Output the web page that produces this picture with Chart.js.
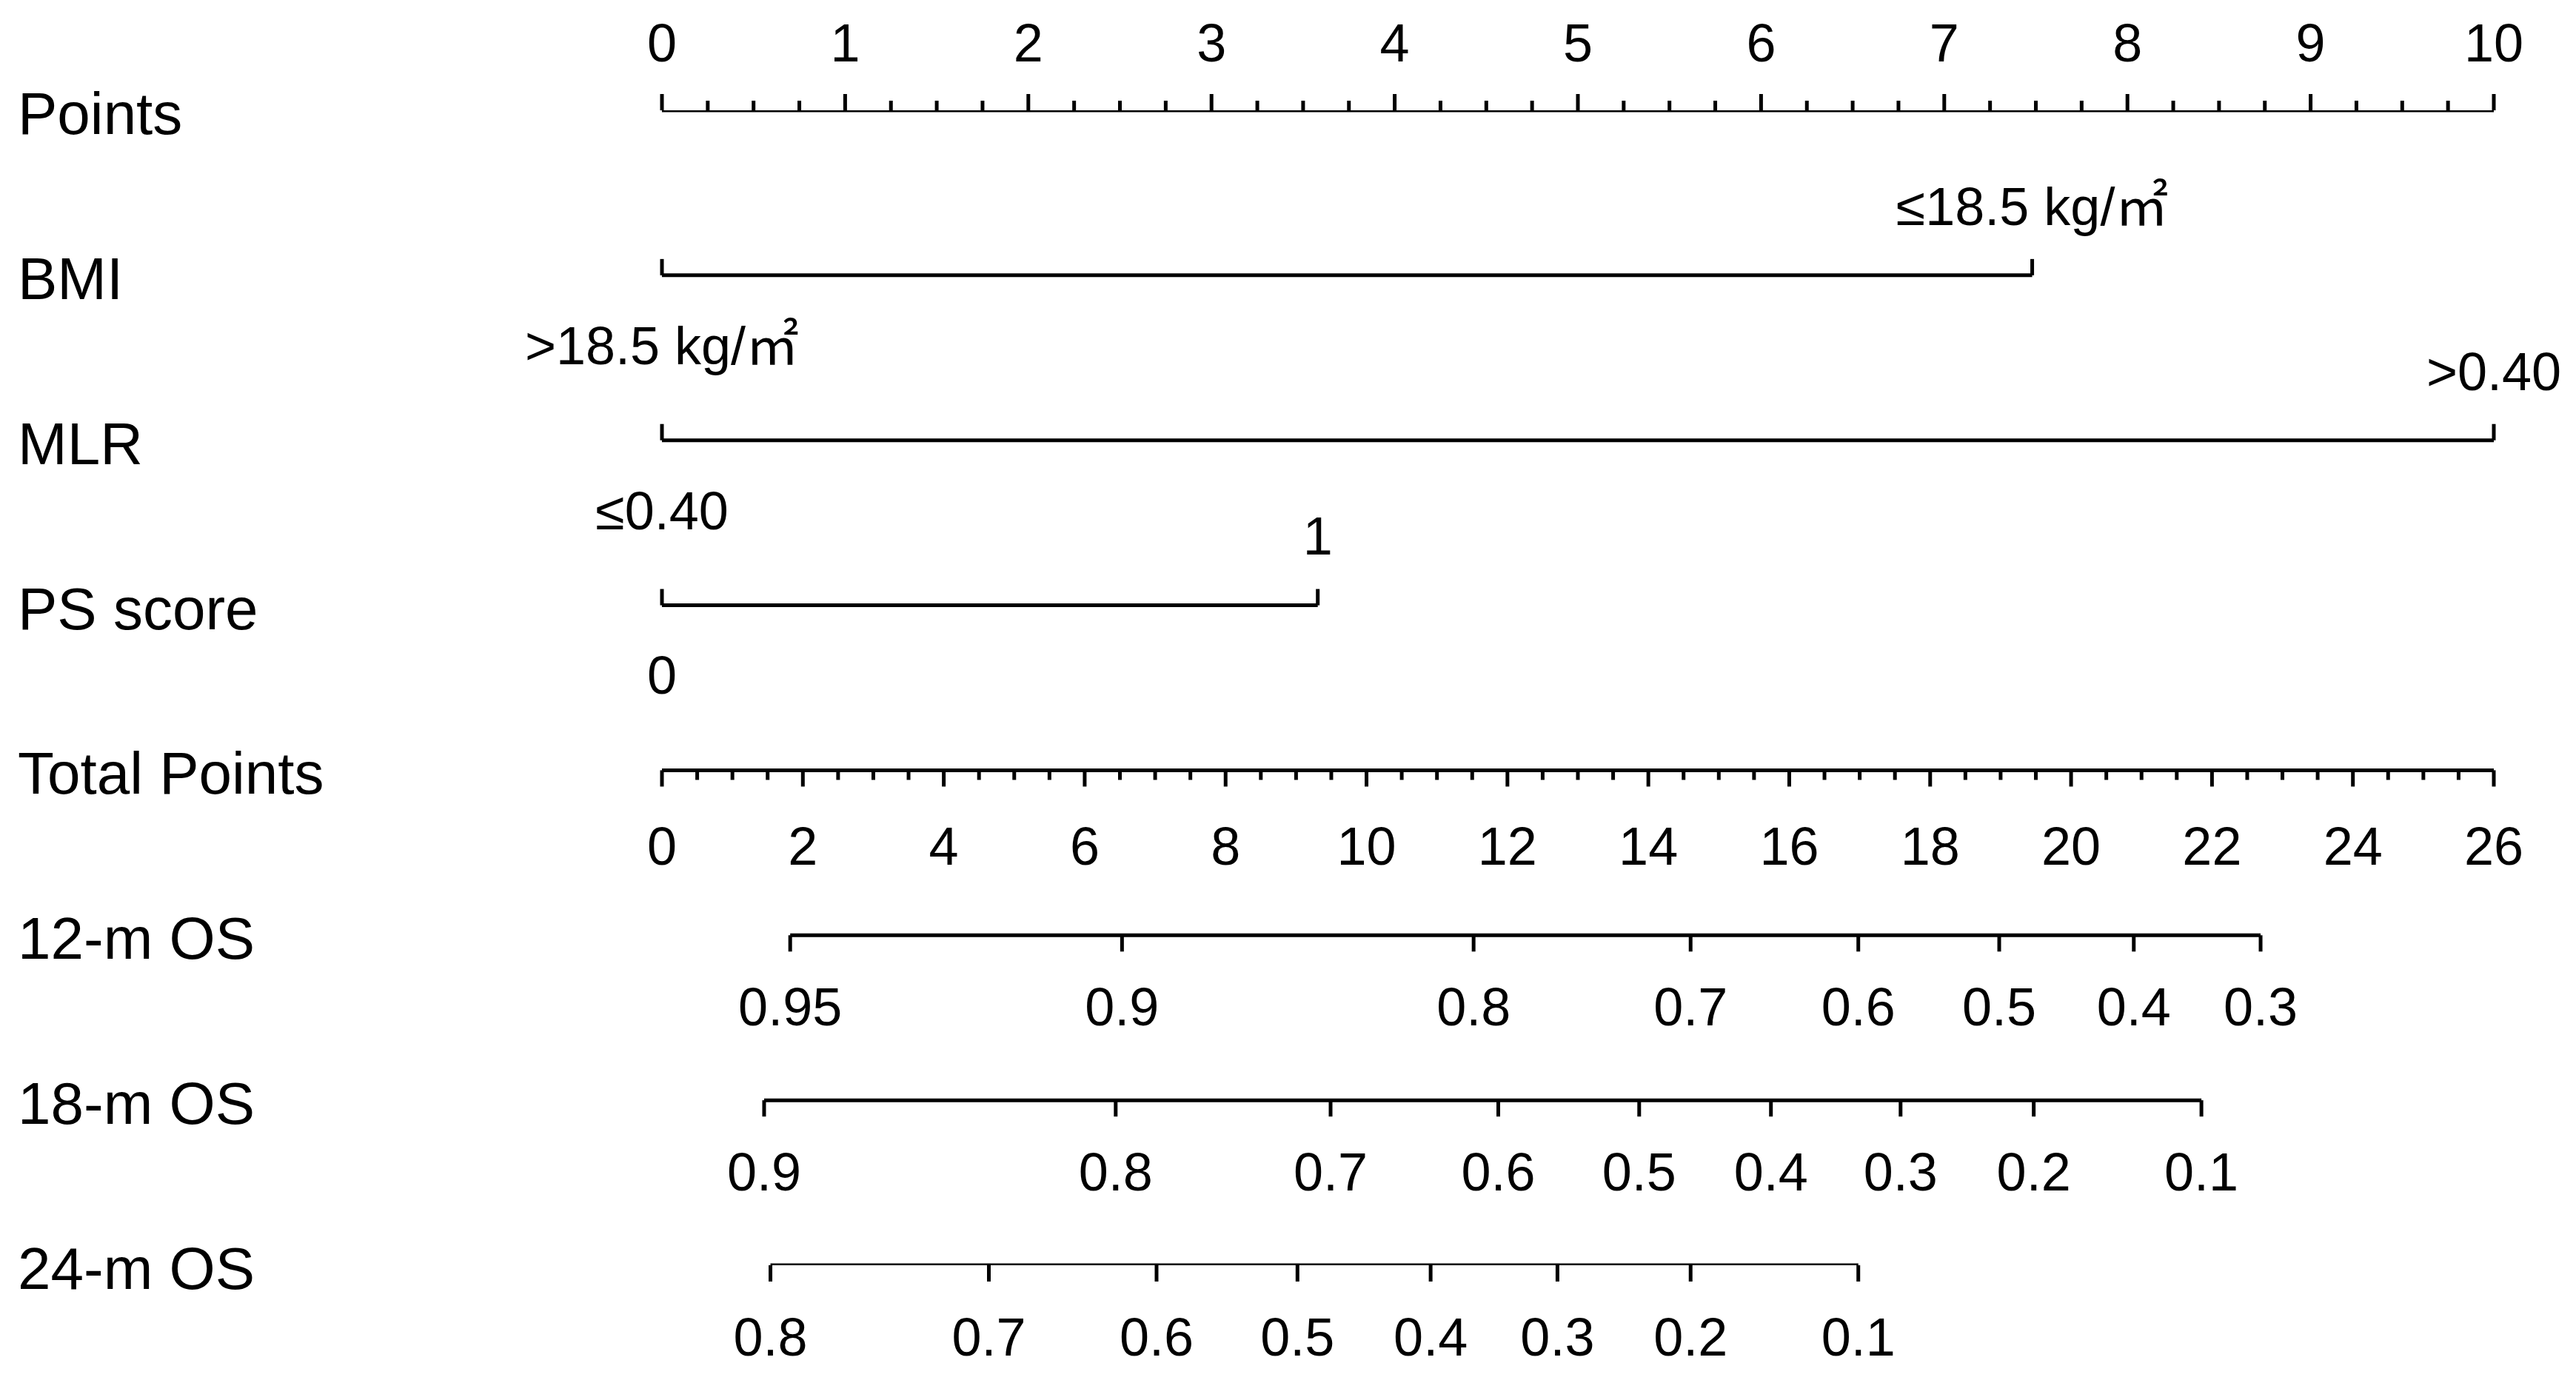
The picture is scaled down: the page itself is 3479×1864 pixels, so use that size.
<!DOCTYPE html>
<html><head><meta charset="utf-8">
<script src="https://cdn.jsdelivr.net/npm/chart.js@4"></script>
<style>html,body{margin:0;padding:0;background:#fff}#c{display:block}</style>
</head><body>
<canvas id="c" width="3479" height="1864"></canvas>
<script>
const rowLabels = ["Points","BMI","MLR","PS score","Total Points","12-m OS","18-m OS","24-m OS"];
const pointsTicks = [0,1,2,3,4,5,6,7,8,9,10];
const totalTicks = [0,2,4,6,8,10,12,14,16,18,20,22,24,26];
const totalMax = 26;
const bmiPoints = [0, 7.48]; const bmiLabels = [">18.5 kg/㎡","≤18.5 kg/㎡"];
const mlrPoints = [0, 10];   const mlrLabels = ["≤0.40",">0.40"];
const psPoints = [0, 3.58];  const psLabels = ["0","1"];
const os12Labels = ["0.95","0.9","0.8","0.7","0.6","0.5","0.4","0.3"];
const os12Total = [1.82,6.53,11.52,14.6,16.98,18.98,20.89,22.69];
const os18Labels = ["0.9","0.8","0.7","0.6","0.5","0.4","0.3","0.2","0.1"];
const os18Total = [1.45,6.44,9.49,11.87,13.87,15.74,17.58,19.47,21.85];
const os24Labels = ["0.8","0.7","0.6","0.5","0.4","0.3","0.2","0.1"];
const os24Total = [1.54,4.64,7.02,9.02,10.91,12.71,14.6,16.98];

const toPts = t => t*10/totalMax;
const seg = (a,b,row) => ({data:[{x:a,y:row},{x:b,y:row}],showLine:true,borderColor:'#000',borderWidth:5,pointRadius:0});
const datasets = [
  seg(0,10,0), seg(bmiPoints[0],bmiPoints[1],1), seg(mlrPoints[0],mlrPoints[1],2),
  seg(psPoints[0],psPoints[1],3), seg(0,10,4),
  seg(toPts(os12Total[0]),toPts(os12Total[os12Total.length-1]),5),
  seg(toPts(os18Total[0]),toPts(os18Total[os18Total.length-1]),6),
  seg(toPts(os24Total[0]),toPts(os24Total[os24Total.length-1]),7)
];
const FONT = '"Liberation Sans", Arial, "Noto Sans CJK SC", sans-serif';
const deco = {id:'deco', afterDatasetsDraw(chart){
  const {ctx, scales:{x,y}} = chart;
  ctx.save(); ctx.strokeStyle='#000'; ctx.fillStyle='#000'; ctx.lineWidth=5; ctx.lineCap='butt';
  const tick=(v,row,len,dir)=>{const px=x.getPixelForValue(v),py=y.getPixelForValue(row);ctx.beginPath();ctx.moveTo(px,py);ctx.lineTo(px,py+dir*len);ctx.stroke();};
  const text=(s,v,row,dy,size,align)=>{ctx.font=size+'px '+FONT;ctx.textAlign=align||'center';ctx.textBaseline='middle';ctx.fillText(s,x.getPixelForValue(v),y.getPixelForValue(row)+dy);};
  ctx.font='80px '+FONT; ctx.textAlign='left'; ctx.textBaseline='middle';
  rowLabels.forEach((l,i)=>ctx.fillText(l,24,y.getPixelForValue(i)+10));
  for(let v=0;v<=10.001;v+=0.25){const major=Math.abs(v-Math.round(v))<1e-6;tick(v,0,major?22:13,-1);}
  pointsTicks.forEach(v=>text(String(v),v,0,-86,72));
  for(let t=0;t<=totalMax+0.001;t+=0.5){const major=Math.abs(t/2-Math.round(t/2))<1e-6;tick(toPts(t),4,major?22:13,1);}
  totalTicks.forEach(t=>text(String(t),toPts(t),4,108,72));
  [[bmiPoints,bmiLabels,1],[mlrPoints,mlrLabels,2],[psPoints,psLabels,3]].forEach(([p,l,r])=>{
    p.forEach(v=>tick(v,r,22,-1));
    text(l[0],p[0],r,100,72); text(l[1],p[1],r,-88,72);
  });
  [[os12Total,os12Labels,5],[os18Total,os18Labels,6],[os24Total,os24Labels,7]].forEach(([t,l,r])=>{
    t.forEach((v,i)=>{tick(toPts(v),r,22,1);text(l[i],toPts(v),r,102,72);});
  });
  ctx.restore();
}};
new Chart(document.getElementById('c'),{type:'scatter',data:{datasets},
  options:{responsive:false,animation:false,events:[],
    layout:{padding:{left:894,right:111,top:149,bottom:155}},
    plugins:{legend:{display:false},tooltip:{enabled:false}},
    scales:{x:{type:'linear',min:0,max:10,display:false},
            y:{type:'linear',min:0,max:7,reverse:true,display:false}}},
  plugins:[deco]});
</script></body></html>
